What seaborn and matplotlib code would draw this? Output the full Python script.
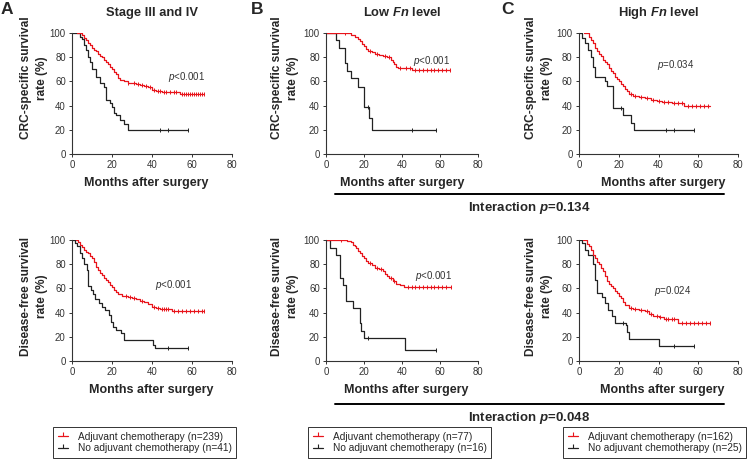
import matplotlib
matplotlib.use("Agg")
import matplotlib.pyplot as plt
import numpy as np
import seaborn as sns
from matplotlib.lines import Line2D

# ---- data ----
# A, CRC-specific survival
a_os_red_t = [2.5, 5, 6, 7, 8, 9, 10, 11, 12, 13, 14, 15, 16, 17, 18, 19, 20, 21, 22, 23, 24, 26, 28, 30, 32, 34, 36, 38, 40, 42, 45, 50, 54, 66]
a_os_red_s = [100, 98, 96, 94, 92, 90, 88, 86, 85, 83, 81, 80, 78, 76, 74, 72, 70, 68, 66, 63, 61, 60, 59, 58.5, 58, 57, 56, 55, 53, 52, 51.5, 51, 49.6, 49.6]
a_os_red_c = [28, 31, 33, 35, 37, 39, 41, 43, 44, 46, 47, 49, 51, 52, 55, 56, 57, 58, 59, 60, 61, 62, 63, 64, 65, 66]
a_os_blk_t = [0, 4, 5, 6, 7, 8, 9, 10, 12, 14, 16, 17, 19, 20, 21, 22, 24, 26, 28, 58]
a_os_blk_s = [100, 97, 95, 90, 86, 80, 76, 70, 64, 59, 55, 45, 42, 39, 34, 32, 28, 25, 20, 20]
a_os_blk_c = [44, 48, 58]

# B, CRC-specific survival
b_os_red_t = [0, 13, 15, 17, 18, 19, 20, 21, 22, 24, 26, 28, 30, 32, 34, 35, 36, 37, 38, 45, 65]
b_os_red_s = [100, 98.5, 97, 95, 93, 91, 89, 87, 85, 84, 83, 82, 81, 80, 78, 76, 74, 72, 71, 69.5, 69.5]
b_os_red_c = [10, 23, 27, 31, 33, 39, 42, 44, 47, 49, 51, 53, 55, 57, 59, 61, 63, 65]
b_os_blk_t = [0, 5, 7, 10, 11, 13, 17, 20, 22.5, 24, 58]
b_os_blk_s = [100, 94, 87.5, 75, 69, 62.5, 55, 39, 30, 20, 20]
b_os_blk_c = [22, 45, 58]

# C, CRC-specific survival
c_os_red_t = [2.5, 5, 6, 7, 8, 9, 10, 11, 12, 13, 14, 15, 16, 17, 18, 19, 20, 21, 22, 23, 24, 25, 27, 30, 33, 36, 39, 42, 47, 53, 66]
c_os_red_s = [100, 97, 94, 92, 88, 85, 83, 81, 78, 76, 74, 71, 69, 67, 64, 62, 60, 58, 56, 54, 52, 50, 48, 47.5, 46.5, 45, 43.5, 42.6, 42, 39.6, 39.6]
c_os_red_c = [26, 28, 31, 34, 37, 40, 43, 45, 48, 50, 52, 55, 57, 59, 61, 63, 65]
c_os_blk_t = [0, 1.5, 3, 4.5, 6, 7, 8, 13, 14, 17, 22, 26, 27.5, 58]
c_os_blk_s = [100, 96, 92, 86, 80, 72, 64, 60, 56, 38, 32, 26, 19.5, 19.5]
c_os_blk_c = [21, 44, 48, 58]

# A, disease-free survival
a_dfs_red_t = [2, 3, 4, 5, 6, 7, 8, 9, 10, 11, 12, 13, 14, 15, 16, 17, 18, 19, 20, 21, 22, 23, 25, 28, 30, 32, 34, 36, 38, 40, 42, 44, 50, 66]
a_dfs_red_s = [100, 98, 96, 94, 92, 90, 89, 87, 85, 82, 78, 75, 73, 71, 69, 67, 65, 63, 61, 59, 57, 55, 54, 53, 52, 51, 50, 48.5, 47, 45, 43.5, 42.8, 41.4, 41.4]
a_dfs_red_c = [27, 29, 31, 35, 41, 43, 45, 46, 47, 48, 51, 53, 55, 57, 59, 61, 63, 65, 66]
a_dfs_blk_t = [0, 1.3, 2.5, 3.8, 5, 6, 7.5, 8, 9.7, 10.5, 11.5, 13.5, 15, 16.5, 18.5, 19.5, 20.5, 22, 24.5, 26, 40.5, 41.5, 58]
a_dfs_blk_s = [100, 97.5, 95, 89, 85, 80, 75, 62, 59, 55, 51, 48, 45, 42, 38, 32, 28, 25.5, 23, 17.5, 13, 10.5, 10.5]
a_dfs_blk_c = [48, 58]

# B, disease-free survival
b_dfs_red_t = [0, 11, 13, 14, 15, 16, 17, 18, 19, 20, 21, 22, 24, 26, 28, 30, 31, 32, 33, 35, 37, 39, 41, 66]
b_dfs_red_s = [100, 99, 98, 96, 95, 93, 91, 89, 87, 85, 83, 81, 79, 77, 76, 74, 72, 70, 68.5, 66, 64, 62.5, 61, 61]
b_dfs_red_c = [8, 23, 27, 29, 34, 36, 43, 45, 47, 49, 51, 53, 55, 57, 59, 61, 63, 66]
b_dfs_blk_t = [0, 2.3, 5.4, 7.5, 9, 10.7, 14.2, 17.7, 18.6, 19.8, 41.4, 58]
b_dfs_blk_s = [100, 93.5, 87.5, 68.75, 62.5, 50, 43.75, 31.25, 25, 18.75, 9.5, 9.5]
b_dfs_blk_c = [22, 58]

# C, disease-free survival
c_dfs_red_t = [2, 4, 5, 6, 7, 8, 9, 10, 11, 12, 13, 14, 15, 16, 17, 18, 19, 20, 21, 22, 23, 25, 27, 30, 33, 35, 37, 40, 43, 50, 66]
c_dfs_red_s = [100, 97, 95, 92, 88, 85, 82, 80, 77, 74, 70, 66, 64, 62, 60, 58, 56, 54, 52, 49, 46, 44, 42.8, 42, 41, 39, 37, 36, 35, 31.2, 31.2]
c_dfs_red_c = [26, 28, 31, 34, 36, 39, 41, 44, 45, 47, 48, 52, 54, 56, 58, 60, 62, 64, 66]
c_dfs_blk_t = [0, 1.3, 3, 4.7, 6.9, 7.8, 9, 11.4, 13, 14.8, 16.5, 18, 23.5, 24.3, 25, 40, 58]
c_dfs_blk_s = [100, 97.5, 92, 88, 80, 67, 56, 53, 48, 42, 37, 31, 30, 24, 18.5, 12.5, 12.5]
c_dfs_blk_c = [22, 48, 58]

panel_letters = ["A", "B", "C"]
panel_titles = ["Stage III and IV", r"Low $\mathbf{Fn}$ level", r"High $\mathbf{Fn}$ level"]
os_pvals = [r"$p$<0.001", r"$p$<0.001", r"$p$=0.034"]
dfs_pvals = [r"$p$<0.001", r"$p$<0.001", r"$p$=0.024"]
interaction_labels = [r"Interaction $\mathbf{p}$=0.134", r"Interaction $\mathbf{p}$=0.048"]
n_adjuvant = [239, 77, 162]
n_none = [41, 16, 25]

# ---- style ----
sns.set_style("ticks")
plt.rcParams["font.family"] = ["Liberation Sans", "DejaVu Sans"]
plt.rcParams["mathtext.fontset"] = "custom"
plt.rcParams["mathtext.rm"] = "Liberation Sans"
plt.rcParams["mathtext.it"] = "Liberation Sans:italic"
plt.rcParams["mathtext.bf"] = "Liberation Sans:italic:bold"

RED = "#e8141b"
BLK = "#222222"

fig = plt.figure(figsize=(7.5, 4.59), dpi=100)
W, H = 750, 459


def px_axes(x0, y0, x1, y1):
    return fig.add_axes([x0 / W, 1 - y1 / H, (x1 - x0) / W, (y1 - y0) / H])


def step_at(t, s, c):
    idx = np.searchsorted(t, c, side="right") - 1
    return np.asarray(s)[idx]


cols = [(72, 232), (326, 478), (579, 738)]
rows = [(33, 154), (240, 361)]
curves = [
    [(a_os_red_t, a_os_red_s, a_os_red_c, a_os_blk_t, a_os_blk_s, a_os_blk_c),
     (b_os_red_t, b_os_red_s, b_os_red_c, b_os_blk_t, b_os_blk_s, b_os_blk_c),
     (c_os_red_t, c_os_red_s, c_os_red_c, c_os_blk_t, c_os_blk_s, c_os_blk_c)],
    [(a_dfs_red_t, a_dfs_red_s, a_dfs_red_c, a_dfs_blk_t, a_dfs_blk_s, a_dfs_blk_c),
     (b_dfs_red_t, b_dfs_red_s, b_dfs_red_c, b_dfs_blk_t, b_dfs_blk_s, b_dfs_blk_c),
     (c_dfs_red_t, c_dfs_red_s, c_dfs_red_c, c_dfs_blk_t, c_dfs_blk_s, c_dfs_blk_c)],
]
pval_pos = [[(48, 64), (45.8, 77), (39, 73.7)], [(41.3, 63), (47, 70), (37.8, 57.5)]]
ylabels = ["CRC-specific survival\nrate (%)", "Disease-free survival\nrate (%)"]
ylab_x = [34, 285, 539]
ylab_y = [78, 296]
xlab_x = [[146, 402, 663], [151, 406, 662]]
xlab_y = [183, 390]

for r, (y0, y1) in enumerate(rows):
    for c, (x0, x1) in enumerate(cols):
        ax = px_axes(x0, y0, x1, y1)
        rt, rs, rc, bt, bs, bc = curves[r][c]
        sns.lineplot(x=bt, y=bs, drawstyle="steps-post", estimator=None, sort=False,
                     color=BLK, lw=0.9, ax=ax)
        sns.lineplot(x=rt, y=rs, drawstyle="steps-post", estimator=None, sort=False,
                     color=RED, lw=0.9, ax=ax)
        ax.plot(bc, step_at(bt, bs, bc), ls="none", marker="|", ms=3, mew=0.7, color=BLK)
        ax.plot(rc, step_at(rt, rs, rc), ls="none", marker="|", ms=3, mew=0.7, color=RED)
        ax.set_xlim(0, 80)
        ax.set_ylim(0, 100)
        ax.set_xticks(range(0, 81, 20))
        ax.set_yticks(range(0, 101, 20))
        ax.tick_params(labelsize=6.9, length=2.5, width=0.7, pad=2, colors="#333333")
        for sp in ["left", "bottom"]:
            ax.spines[sp].set_linewidth(0.8)
            ax.spines[sp].set_color("#333333")
        sns.despine(ax=ax)
        ax.set_xlabel("")
        ax.set_ylabel("")
        px_, py_ = pval_pos[r][c]
        ax.text(px_, py_, os_pvals[c] if r == 0 else dfs_pvals[c], fontsize=7,
                color="#333333", ha="left", va="center")

        fig.text(ylab_x[c] / W, 1 - ylab_y[r] / H, ylabels[r], rotation=90,
                 ha="center", va="center", multialignment="center",
                 fontsize=8.6, fontweight="bold", linespacing=1.5)
        fig.text(xlab_x[r][c] / W, 1 - xlab_y[r] / H, "Months after surgery",
                 ha="center", va="center", fontsize=9, fontweight="bold")

# panel letters and titles
for c, (x0, x1) in enumerate(cols):
    fig.text([1, 251, 501][c] / W, 1 - 10 / H, panel_letters[c], fontsize=12.5,
             fontweight="bold", ha="left", va="center")
    fig.text((x0 + x1) / 2 / W, 1 - 13 / H, panel_titles[c], fontsize=9.3,
             fontweight="bold", ha="center", va="center")

# interaction bars
for y_line, y_txt, lab in [(194, 208, interaction_labels[0]), (404, 418, interaction_labels[1])]:
    fig.add_artist(Line2D([335 / W, 724 / W], [1 - y_line / H] * 2, color="black", lw=1.4))
    fig.text(529 / W, 1 - y_txt / H, lab, fontsize=9.5, fontweight="bold",
             ha="center", va="center")

# legends
leg_x = [53, 308, 563]
for c in range(3):
    handles = [
        Line2D([], [], color=RED, lw=0.9, marker=2, ms=3, mew=0.8),
        Line2D([], [], color=BLK, lw=0.9, marker=2, ms=3, mew=0.8),
    ]
    labels = [f"Adjuvant chemotherapy (n={n_adjuvant[c]})",
              f"No adjuvant chemotherapy (n={n_none[c]})"]
    leg = fig.legend(handles, labels, loc="upper left",
                     bbox_to_anchor=(leg_x[c] / W, 1 - 427 / H),
                     fontsize=7.3, frameon=True, fancybox=False,
                     handlelength=1.0, handletextpad=1.0, labelspacing=0.15,
                     borderpad=0.45, borderaxespad=0)
    leg.get_frame().set_edgecolor("black")
    leg.get_frame().set_linewidth(0.7)

fig.savefig("out.png", dpi=100)
